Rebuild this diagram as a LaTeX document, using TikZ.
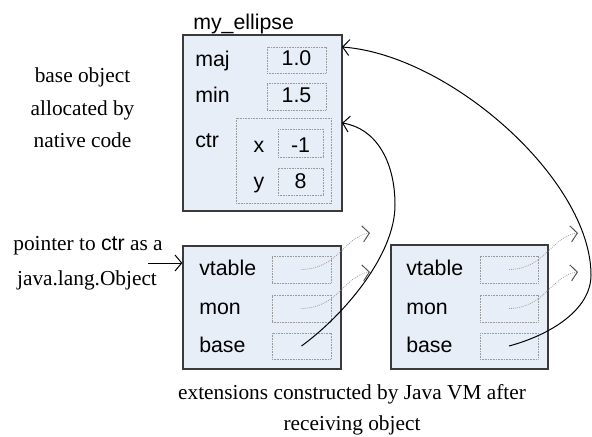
\documentclass[tikz,border=0pt]{standalone}
\usepackage{fontspec}
\setmainfont{Liberation Serif}
\setsansfont{Liberation Sans}
\usetikzlibrary{arrows.meta,fit}
\definecolor{boxfill}{HTML}{E8EEF7}
\definecolor{boxedge}{HTML}{3A3A3A}
\definecolor{dotgray}{HTML}{9A9A9A}
\definecolor{tipgray}{HTML}{555555}
\begin{document}
\begin{tikzpicture}[x=0.75pt,y=-0.75pt,
  obj/.style={draw=boxedge, line width=1pt, fill=boxfill, inner sep=0pt},
  slot/.style={draw=dotgray, dash pattern=on 0.6pt off 0.6pt, line width=0.6pt, inner sep=0pt},
  lbl/.style={font=\sffamily\fontsize{16}{19}\selectfont, inner sep=0pt},
  note/.style={font=\fontsize{16}{19}\selectfont, inner sep=0pt},
  link/.style={-{Straight Barb[length=5pt,width=12pt,line width=0.75pt]}, line width=0.75pt, black},
  vlink/.style={-{Straight Barb[length=5pt,width=12pt,line width=0.75pt,color=tipgray]}, line width=0.6pt, dotgray, dash pattern=on 0.6pt off 0.9pt}]
\useasboundingbox (0,0) rectangle (592,436);

% main object
\node[obj, fit={(183,35) (342,211)}] (main) {};
\node[lbl, anchor=base west] (title) at (193,29) {my\_ellipse};
\node[lbl, anchor=base west] (lmaj) at (195,66) {maj};
\node[slot, fit={(267,47) (326,73)}] (smaj) {};
\node[lbl, anchor=base] (vmaj) at (296.5,65) {1.0};
\node[lbl, anchor=base west] (lmin) at (195,102) {min};
\node[slot, fit={(267,83) (326,110)}] (smin) {};
\node[lbl, anchor=base] (vmin) at (296.5,102) {1.5};
\node[lbl, anchor=base west] (lctr) at (195,147) {ctr};
\node[slot, fit={(236,118) (331,203)}] (sctr) {};
\node[lbl, anchor=base] (lx) at (259,152) {x};
\node[slot, fit={(278,129) (323,157)}] (sx) {};
\node[lbl, anchor=base] (vx) at (300.5,152) {-1};
\node[lbl, anchor=base] (ly) at (259,188) {y};
\node[slot, fit={(278,168) (323,195)}] (sy) {};
\node[lbl, anchor=base] (vy) at (300.5,188) {8};

% extension objects
\node[obj, fit={(183,246) (341,369)}] (lbox) {};
\node[lbl, anchor=base west] (lvtl) at (199,275) {vtable};
\node[lbl, anchor=base west] (lmonl) at (199,314) {mon};
\node[lbl, anchor=base west] (lbasel) at (199,352) {base};
\node[slot, fit={(272,256) (331,283)}] (lvt) {};
\node[slot, fit={(272,295) (331,322)}] (lmon) {};
\node[slot, fit={(272,333) (331,359)}] (lbase) {};

\node[obj, fit={(391,245) (548,369)}] (rbox) {};
\node[lbl, anchor=base west] (rvtl) at (406,275) {vtable};
\node[lbl, anchor=base west] (rmonl) at (406,314) {mon};
\node[lbl, anchor=base west] (rbasel) at (406,352) {base};
\node[slot, fit={(480,256) (538,283)}] (rvt) {};
\node[slot, fit={(480,295) (538,322)}] (rmon) {};
\node[slot, fit={(480,333) (538,359)}] (rbase) {};

% free ends
\coordinate (lvtend) at (370,233);
\coordinate (lmonend) at (370,272);
\coordinate (rvtend) at (578,233);
\coordinate (rmonend) at (578,272);
\coordinate (ctrtip) at (342,123);
\coordinate (majtip) at (342,47);
\coordinate (pstart) at (148,263);

% dotted vtable / mon links
\draw[vlink] (lvt.center) .. controls (338,269) and (345,236) .. (lvtend);
\draw[vlink] (lmon.center) .. controls (338,308) and (345,275) .. (lmonend);
\draw[vlink] (rvt.center) .. controls (545,269) and (552,236) .. (rvtend);
\draw[vlink] (rmon.center) .. controls (545,308) and (552,275) .. (rmonend);

% base links
\draw[link] (lbase.center) .. controls (344,315) and (395,255) .. (395,205)
  .. controls (395,160) and (375,128) .. (ctrtip);
\draw[link] (rbase.center) .. controls (550,335) and (591,310) .. (591,275)
  .. controls (591,180) and (450,55) .. (majtip);

% pointer
\draw[link] (pstart) -- (lbox.west |- pstart);

% notes
\node[note, anchor=base] (n1) at (82.5,82) {base object};
\node[note, anchor=base] (n2) at (82.5,115) {allocated by};
\node[note, anchor=base] (n3) at (82.5,147) {native code};
\node[note, anchor=base] (p1) at (88,250) {pointer to \textsf{ctr} as a};
\node[note, anchor=base] (p2) at (87,285) {java.lang.Object};
\node[note, anchor=base] (b1) at (352,399) {extensions constructed by Java VM after};
\node[note, anchor=base] (b2) at (352,430) {receiving object};
\end{tikzpicture}
\end{document}
